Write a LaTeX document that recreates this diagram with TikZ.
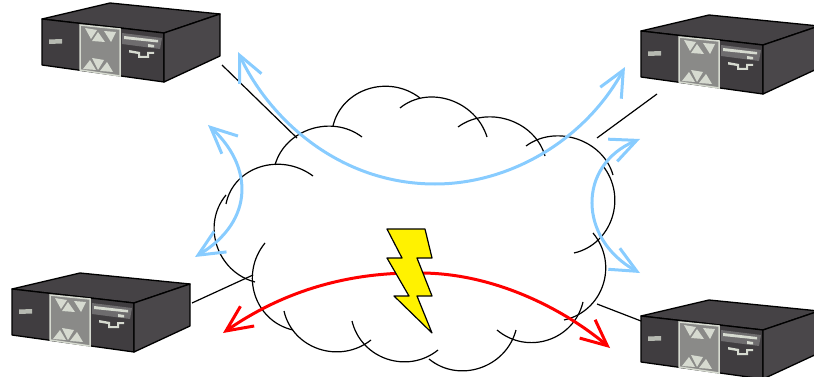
\documentclass[tikz,border=0pt]{standalone}
\usetikzlibrary{arrows.meta,calc}
\definecolor{srvfront}{HTML}{403D40}
\definecolor{srvside}{HTML}{4A474A}
\definecolor{srvtop}{HTML}{454245}
\definecolor{srvpanel}{HTML}{8A8A88}
\definecolor{srvslot}{HTML}{6E6C6E}
\definecolor{srvlight}{HTML}{D6DAD0}
\definecolor{skyarc}{HTML}{88CCFF}
\newcommand{\cloudlobe}[3]{\draw[cloudarc] (#1) .. controls ($1.3333*(#2)+0.1033*(#1)-0.4367*(#3)$) and ($1.3333*(#2)-0.4367*(#1)+0.1033*(#3)$) .. (#3);}
\tikzset{
  pics/server/.style={code={
    \draw[srvedge,fill=srvtop] (0,16) -- (68,0) -- (178,11) -- (122,30) -- cycle;
    \draw[srvedge,fill=srvfront] (0,16) -- (122,30) -- (122,79) -- (0,62) -- cycle;
    \draw[srvedge,fill=srvside] (122,30) -- (178,11) -- (178,53) -- (122,79) -- cycle;
    \draw[srvlight,line width=1.5pt,fill=srvpanel] (38,22) -- (78,26) -- (78,73) -- (38,67) -- cycle;
    \fill[srvlight] (43,25) -- (55,27) -- (49,36) -- cycle;
    \fill[srvlight] (56,29) -- (63,39) -- (50,38) -- cycle;
    \fill[srvlight] (62,28) -- (74,29) -- (69,39) -- cycle;
    \fill[srvlight] (41,66) -- (48,57) -- (54,67) -- cycle;
    \fill[srvlight] (50,55) -- (62,57) -- (56,67) -- cycle;
    \fill[srvlight] (58,68) -- (65,59) -- (71,69) -- cycle;
    \fill[srvslot] (80,30) -- (120,35) -- (118,46) -- (80,41) -- cycle;
    \fill[srvlight] (82,33) -- (116,37) -- (116,39.5) -- (82,36) -- cycle;
    \fill[srvlight] (106,41) -- (112,42) -- (112,44.5) -- (106,44) -- cycle;
    \fill[srvlight] (87,47) -- (98,49) -- (98,53) -- (105,53) -- (105,49) -- (112,49) -- (112,51)
      -- (107,51) -- (107,55) -- (96,55) -- (96,51) -- (87,49.5) -- cycle;
    \fill[srvlight!85!black] (7,36.5) -- (20,36) -- (20,40.5) -- (7,41) -- cycle;
  }},
  srvedge/.style = {black, line width=1.3pt, line join=round},
  cloudarc/.style = {black, line width=1.2pt},
  linkline/.style = {black, line width=1.2pt},
  skyline/.style = {skyarc, line width=3pt, {Straight Barb[length=26pt,width=24pt]}-{Straight Barb[length=26pt,width=24pt]}},
  redline/.style = {red, line width=3pt, {Straight Barb[length=26pt,width=24pt]}-{Straight Barb[length=26pt,width=24pt]}},
  bolt/.style = {draw=black, fill=yellow, line width=1.2pt, line join=round}
}
\begin{document}
\begin{tikzpicture}[x=1pt,y=-1pt]
    \useasboundingbox (0,0) rectangle (814,377);
    \clip (0,0) rectangle (814,377);

    \pic (srvA) at (42,3) {server};
    \pic (srvB) at (641,15) {server};
    \pic (srvC) at (12,273) {server};
    \pic (srvD) at (641,300) {server};

    % cloud
    \cloudlobe{226,204}{260,167}{313,176}
    \cloudlobe{275,165}{311,129}{362,137}
    \cloudlobe{333,126}{368,89}{420,98}
    \cloudlobe{400,108}{450,100}{487,137}
    \cloudlobe{458,127}{509,120}{545,156}
    \cloudlobe{526,146}{577,139}{613,175}
    \cloudlobe{603,166}{612,218}{574,253}
    \cloudlobe{593,233}{603,285}{564,320}
    \cloudlobe{583,302}{548,340}{497,330}
    \cloudlobe{516,330}{480,368}{429,359}
    \cloudlobe{438,350}{387,359}{352,321}
    \cloudlobe{371,340}{319,349}{284,311}
    \cloudlobe{293,330}{255,295}{265,243}
    \cloudlobe{255,282}{217,246}{226,195}

    % links
    \coordinate (cloudA) at (297,138);
    \coordinate (cloudB) at (597,138);
    \coordinate (cloudC) at (253,275);
    \coordinate (cloudD) at (597,304);
    \coordinate (linkA) at (222,65);
    \coordinate (linkB) at (657,94);
    \coordinate (linkC) at (192,303);
    \coordinate (linkD) at (641,321);
    \draw[linkline] (linkA) -- (cloudA);
    \draw[linkline] (linkB) -- (cloudB);
    \draw[linkline] (linkC) -- (cloudC);
    \draw[linkline] (linkD) -- (cloudD);

    % arrows
    \coordinate (tipA) at (238,52);
    \coordinate (tipB) at (625,67);
    \coordinate (tipC) at (208,125);
    \coordinate (tipD) at (195,257);
    \coordinate (tipE) at (640,139);
    \coordinate (tipF) at (640,273);
    \coordinate (tipG) at (223,333);
    \coordinate (tipH) at (610,348);
    \draw[skyline] (tipA) .. controls (270,120) and (340,184) .. (435,184) .. controls (510,184) and (585,140) .. (tipB);
    \draw[skyline] (tipC) .. controls (252,165) and (256,220) .. (tipD);
    \draw[skyline] (tipE) .. controls (577,165) and (578,239) .. (tipF);
    \draw[redline] (tipG) .. controls (285,290) and (350,272) .. (420,273) .. controls (495,273) and (565,310) .. (tipH);

    % flash
    \draw[bolt] (387,229) -- (425,229) -- (432,258) -- (417,258) -- (432,296) -- (417,296) -- (432,333) -- (394,296) -- (409,296) -- (387,258) -- (402,258) -- cycle;
\end{tikzpicture}
\end{document}
